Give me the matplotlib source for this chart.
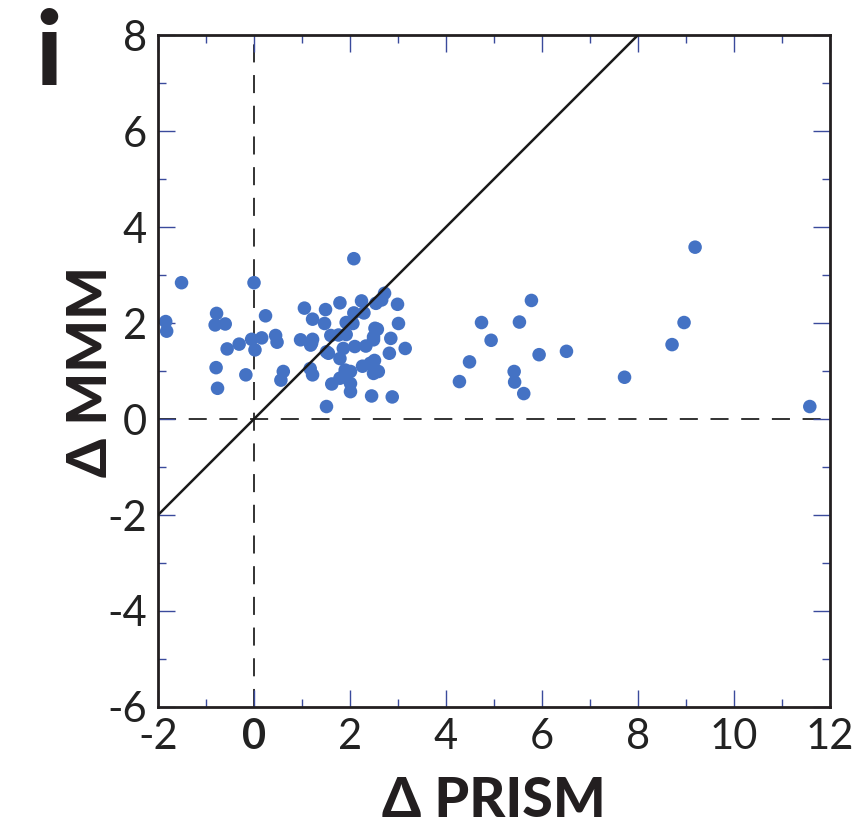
import numpy as np
import matplotlib
matplotlib.use("Agg")
import matplotlib.pyplot as plt
from matplotlib.ticker import MultipleLocator

plt.rcParams['font.family'] = ['Lato', 'DejaVu Sans']

# change in PRISM (x) vs change in multi-model mean (y)
d_prism = [-1.51, -1.84, -1.82, -0.78, -0.81, -0.60, -0.56, -0.31, -0.05, 0.02,
           0.16, 0.00, 0.24, 0.45, 0.48, 0.61, 0.56, -0.79, -0.76, -0.17,
           0.97, 1.05, 1.22, 1.18, 1.17, 1.22, 2.08, 1.49, 1.79, 2.24,
           2.29, 2.08, 2.72, 2.66, 2.54, 2.99, 1.47, 1.92, 2.06, 3.01,
           2.52, 2.57, 1.22, 1.60, 1.76, 1.92, 2.49, 2.85, 3.15, 1.51,
           1.55, 1.86, 2.10, 2.33, 2.49, 2.82, 1.79, 2.26, 2.51, 2.52,
           2.59, 2.49, 1.90, 2.01, 1.86, 1.79, 2.01, 2.01, 1.62, 2.45,
           2.88, 1.51, 1.20, 2.42,
           9.19, 5.78, 4.74, 5.53, 8.96, 4.94, 8.71, 4.49, 5.94, 6.51,
           4.28, 5.42, 5.43, 5.62, 7.72, 11.58]
d_mmm = [2.84, 2.03, 1.83, 2.20, 1.96, 1.98, 1.46, 1.56, 1.66, 1.44,
         1.69, 2.84, 2.15, 1.74, 1.60, 0.99, 0.81, 1.07, 0.64, 0.92,
         1.65, 2.31, 2.08, 1.54, 1.05, 0.92, 3.34, 2.28, 2.42, 2.46,
         2.21, 2.21, 2.62, 2.48, 2.41, 2.39, 1.99, 2.01, 1.99, 1.99,
         1.89, 1.87, 1.66, 1.74, 1.75, 1.76, 1.71, 1.68, 1.47, 1.40,
         1.37, 1.47, 1.51, 1.52, 1.65, 1.37, 1.26, 1.10, 1.22, 1.02,
         0.99, 0.95, 1.02, 0.99, 0.88, 0.85, 0.74, 0.57, 0.73, 0.48,
         0.46, 0.26, 1.58, 1.16,
         3.58, 2.47, 2.01, 2.02, 2.01, 1.64, 1.55, 1.19, 1.34, 1.41,
         0.78, 0.99, 0.77, 0.53, 0.87, 0.26]

x_ticks = [-2, 0, 2, 4, 6, 8, 10, 12]
y_ticks = [-6, -4, -2, 0, 2, 4, 6, 8]

fig = plt.figure(figsize=(8.64, 8.30), dpi=100)
ax = fig.add_axes([0.1829, 0.1482, 0.7777, 0.8096])

# reference lines
ax.axhline(0, color='#222222', lw=1.3, ls=(0, (10, 7)), zorder=1)
ax.axvline(0, color='#222222', lw=1.3, ls=(0, (10, 7)), zorder=1)
ax.plot([-2, 8], [-2, 8], color='#1a1a1a', lw=1.8, zorder=3)

ax.scatter(d_prism, d_mmm, s=95, color='#4472c4', edgecolors='none', zorder=2)

ax.set_xlim(-2, 12)
ax.set_ylim(-6, 8)
ax.set_xticks(x_ticks)
ax.set_yticks(y_ticks)
ax.set_xticklabels([str(v) for v in x_ticks])
ax.set_yticklabels([str(v) for v in y_ticks])
ax.xaxis.set_minor_locator(MultipleLocator(1))
ax.yaxis.set_minor_locator(MultipleLocator(1))

ax.tick_params(which='both', direction='in', top=True, right=True,
               color='#3a4a9c', width=1.0, labelsize=30, labelcolor='#222222', pad=8)
ax.tick_params(which='major', length=12)
ax.tick_params(which='minor', length=6)
for lbl in ax.get_xticklabels():
    if lbl.get_text() == '0':
        lbl.set_fontweight('bold')

for sp in ax.spines.values():
    sp.set_linewidth(2.0)
    sp.set_color('#231f20')

ax.set_xlabel('Δ PRISM', fontsize=40, fontweight='black', color='#231f20', labelpad=14)
ax.set_ylabel('Δ MMM', fontsize=40, fontweight='black', color='#231f20', labelpad=-6)

# panel letter
fig.text(0.057, 0.898, 'i', fontsize=74, fontweight='black', color='#231f20',
         ha='center', va='baseline')

fig.savefig('out.png', dpi=100)
